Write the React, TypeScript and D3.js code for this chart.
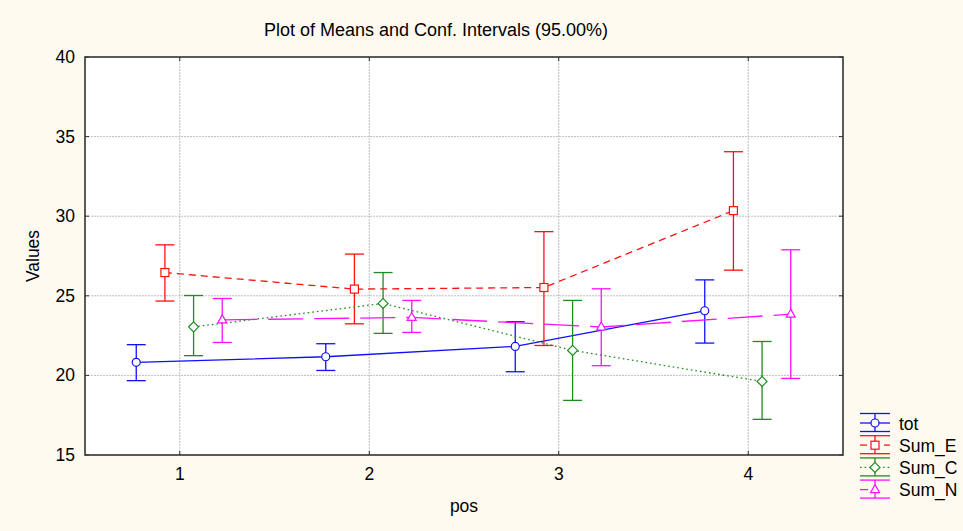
import { useEffect, useRef } from 'react';
import * as d3 from 'd3';

// pos levels and series
const categories = [1, 2, 3, 4];
const seriesNames = ['tot', 'Sum_E', 'Sum_C', 'Sum_N'];

// means and 95% confidence limits
const totMean = [20.82, 21.17, 21.82, 24.06];
const totLow = [19.67, 20.31, 20.23, 22.03];
const totHigh = [21.93, 21.99, 23.37, 26.0];

const sumEMean = [26.46, 25.42, 25.52, 30.35];
const sumELow = [24.67, 23.24, 21.88, 26.61];
const sumEHigh = [28.2, 27.62, 29.03, 34.05];

const sumCMean = [23.05, 24.52, 21.57, 19.62];
const sumCLow = [21.24, 22.64, 18.43, 17.24];
const sumCHigh = [25.02, 26.46, 24.71, 22.13];

const sumNMean = [23.49, 23.64, 23.04, 23.85];
const sumNLow = [22.07, 22.7, 20.61, 19.81];
const sumNHigh = [24.83, 24.71, 25.44, 27.89];

const yTicks = [15, 20, 25, 30, 35, 40];

const styles = {
    tot: { color: '#1010ff', dash: null, marker: 'circle' },
    Sum_E: { color: '#ff1010', dash: '7,5', marker: 'square' },
    Sum_C: { color: '#1f8c1f', dash: '1.6,3', marker: 'diamond' },
    Sum_N: { color: '#ff10ff', dash: '35,11', marker: 'triangle' },
};

const FONT = '"Liberation Sans", Arial, sans-serif';

export default function App() {
    const svgRef = useRef<SVGSVGElement | null>(null);

    useEffect(() => {
        if (!svgRef.current) return;
        const svg = d3.select(svgRef.current);
        svg.selectAll('*').remove();

        const W = 963;
        const H = 531;
        const plot = { left: 85, right: 843, top: 57, bottom: 455 };

        const series = [
            { name: 'tot', mean: totMean, low: totLow, high: totHigh },
            { name: 'Sum_E', mean: sumEMean, low: sumELow, high: sumEHigh },
            { name: 'Sum_C', mean: sumCMean, low: sumCLow, high: sumCHigh },
            { name: 'Sum_N', mean: sumNMean, low: sumNLow, high: sumNHigh },
        ];

        const x = d3.scaleLinear().domain([0.5, 4.5]).range([plot.left, plot.right]);
        const y = d3.scaleLinear().domain([15, 40]).range([plot.bottom, plot.top]);
        const offset = d3.scalePoint<string>().domain(seriesNames).range([-43.5, 42.5]);

        svg.append('rect').attr('width', W).attr('height', H).attr('fill', '#fffaf0');

        svg.append('rect')
            .attr('x', plot.left).attr('y', plot.top)
            .attr('width', plot.right - plot.left).attr('height', plot.bottom - plot.top)
            .attr('fill', '#ffffff');

        // Grid
        const grid = svg.append('g')
            .attr('stroke', '#bdbdbd')
            .attr('stroke-width', 1)
            .attr('stroke-dasharray', '2,1');
        grid.selectAll('.gx')
            .data(categories)
            .enter()
            .append('line')
            .attr('x1', d => x(d)).attr('x2', d => x(d))
            .attr('y1', plot.top).attr('y2', plot.bottom);
        grid.selectAll('.gy')
            .data(yTicks.slice(1, -1))
            .enter()
            .append('line')
            .attr('x1', plot.left).attr('x2', plot.right)
            .attr('y1', d => y(d)).attr('y2', d => y(d));

        // Inward tick marks
        const ticks = svg.append('g').attr('stroke', '#333').attr('stroke-width', 1);
        yTicks.forEach(t => {
            ticks.append('line').attr('x1', plot.left).attr('x2', plot.left + 4).attr('y1', y(t)).attr('y2', y(t));
            ticks.append('line').attr('x1', plot.right - 4).attr('x2', plot.right).attr('y1', y(t)).attr('y2', y(t));
        });
        categories.forEach(c => {
            ticks.append('line').attr('x1', x(c)).attr('x2', x(c)).attr('y1', plot.bottom).attr('y2', plot.bottom - 4);
            ticks.append('line').attr('x1', x(c)).attr('x2', x(c)).attr('y1', plot.top).attr('y2', plot.top + 4);
        });

        const drawMarker = (g: any, type: string, cx: number, cy: number, color: string) => {
            let m;
            if (type === 'circle') {
                m = g.append('circle').attr('cx', cx).attr('cy', cy).attr('r', 4);
            } else if (type === 'square') {
                m = g.append('rect').attr('x', cx - 4).attr('y', cy - 4).attr('width', 8).attr('height', 8);
            } else if (type === 'diamond') {
                m = g.append('path').attr('d', `M${cx},${cy - 5}L${cx + 5},${cy}L${cx},${cy + 5}L${cx - 5},${cy}Z`);
            } else {
                m = g.append('path').attr('d', `M${cx},${cy - 5}L${cx + 4.5},${cy + 3}L${cx - 4.5},${cy + 3}Z`);
            }
            m.attr('fill', '#fff').attr('stroke', color).attr('stroke-width', 1.2);
        };

        const capHalf = 9.5;

        series.forEach(s => {
            const st = (styles as any)[s.name];
            const g = svg.append('g');
            const px = (i: number) => x(categories[i]) + (offset(s.name) ?? 0);

            // connecting line
            const line = d3.line<number>()
                .x((_, i) => px(i))
                .y(d => y(d));
            g.append('path')
                .attr('d', line(s.mean))
                .attr('fill', 'none')
                .attr('stroke', st.color)
                .attr('stroke-width', 1.3)
                .attr('stroke-dasharray', st.dash);

            // error bars
            s.mean.forEach((_, i) => {
                const cx = px(i);
                const eb = g.append('g').attr('stroke', st.color).attr('stroke-width', 1.3);
                eb.append('line').attr('x1', cx).attr('x2', cx).attr('y1', y(s.low[i])).attr('y2', y(s.high[i]));
                eb.append('line').attr('x1', cx - capHalf).attr('x2', cx + capHalf).attr('y1', y(s.low[i])).attr('y2', y(s.low[i]));
                eb.append('line').attr('x1', cx - capHalf).attr('x2', cx + capHalf).attr('y1', y(s.high[i])).attr('y2', y(s.high[i]));
            });

            s.mean.forEach((v, i) => drawMarker(g, st.marker, px(i), y(v), st.color));
        });

        // Frame
        svg.append('rect')
            .attr('x', plot.left).attr('y', plot.top)
            .attr('width', plot.right - plot.left).attr('height', plot.bottom - plot.top)
            .attr('fill', 'none')
            .attr('stroke', '#333')
            .attr('stroke-width', 1.6);

        // Axis labels
        const txt = svg.append('g').attr('font-family', FONT).attr('fill', '#000');
        yTicks.forEach(t => {
            txt.append('text')
                .attr('x', 75).attr('y', y(t) + 6)
                .attr('text-anchor', 'end')
                .attr('font-size', 17.5)
                .text(t);
        });
        categories.forEach(c => {
            txt.append('text')
                .attr('x', x(c)).attr('y', 480)
                .attr('text-anchor', 'middle')
                .attr('font-size', 17.5)
                .text(c);
        });
        txt.append('text')
            .attr('x', (plot.left + plot.right) / 2).attr('y', 512)
            .attr('text-anchor', 'middle')
            .attr('font-size', 17.5)
            .text('pos');
        txt.append('text')
            .attr('transform', `translate(38.5,${(plot.top + plot.bottom) / 2}) rotate(-90)`)
            .attr('text-anchor', 'middle')
            .attr('font-size', 17.5)
            .text('Values');
        txt.append('text')
            .attr('x', 436).attr('y', 35.5)
            .attr('text-anchor', 'middle')
            .attr('font-size', 18)
            .text('Plot of Means and Conf. Intervals (95.00%)');

        // Legend
        const legend = svg.append('g');
        series.forEach((s, i) => {
            const st = (styles as any)[s.name];
            const mid = 423 + i * 22.2;
            const lg = legend.append('g');
            const x0 = 860, x1 = 890, cx = 875;
            lg.append('line').attr('x1', x0).attr('x2', x1).attr('y1', mid - 9.5).attr('y2', mid - 9.5)
                .attr('stroke', st.color).attr('stroke-width', 1.3);
            lg.append('line').attr('x1', x0).attr('x2', x1).attr('y1', mid + 8.5).attr('y2', mid + 8.5)
                .attr('stroke', st.color).attr('stroke-width', 1.3);
            lg.append('line').attr('x1', cx).attr('x2', cx).attr('y1', mid - 9.5).attr('y2', mid + 8.5)
                .attr('stroke', st.color).attr('stroke-width', 1.3);
            lg.append('line').attr('x1', x0).attr('x2', x1).attr('y1', mid).attr('y2', mid)
                .attr('stroke', st.color).attr('stroke-width', 1.3)
                .attr('stroke-dasharray', s.name === 'Sum_N' ? '8,30' : st.dash);
            drawMarker(lg, st.marker, cx, mid, st.color);
            lg.append('text')
                .attr('x', 899).attr('y', mid + 6.5)
                .attr('font-family', FONT)
                .attr('font-size', 17.5)
                .attr('fill', '#000')
                .text(s.name);
        });
    }, []);

    return (
        <svg
            ref={svgRef}
            width={963}
            height={531}
            style={{ position: 'absolute', left: 0, top: 0, display: 'block' }}
        />
    );
}
